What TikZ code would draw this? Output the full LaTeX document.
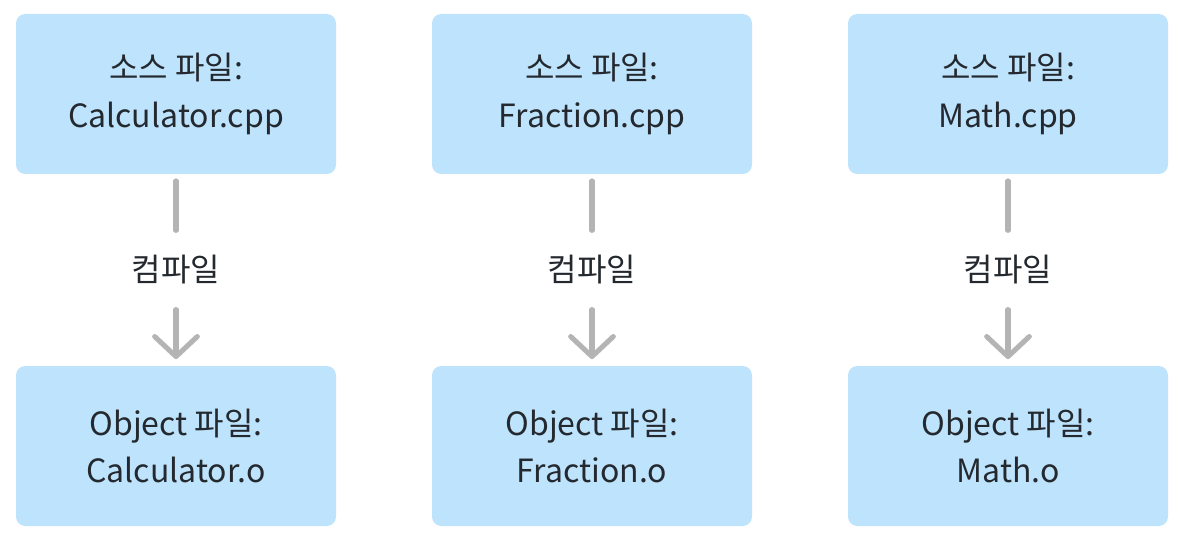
\documentclass[tikz,border=0pt]{standalone}
\usepackage{fontspec}
\setmainfont{Noto Sans CJK KR}
\usetikzlibrary{arrows.meta, positioning}
\definecolor{boxblue}{RGB}{190,227,252}
\definecolor{linegray}{RGB}{180,180,180}
\definecolor{textdark}{RGB}{36,41,47}

\begin{document}
\begin{tikzpicture}[x=0.75pt, y=-0.75pt,
  filebox/.style={rectangle, rounded corners=7pt, fill=boxblue, text=textdark,
    minimum width=240pt, minimum height=120pt, align=center,
    font=\fontsize{24}{35.5}\selectfont},
  steplabel/.style={text=textdark, minimum height=57pt, inner sep=0pt,
    font=\fontsize{24}{28}\selectfont},
  conn/.style={linegray, line width=3.8pt, line cap=round},
  tip/.style={-{Straight Barb[length=15pt, width=32pt, line cap=round, round]}}]
  \useasboundingbox (0,0) rectangle (1185,538);
  \foreach \name/\xc/\src/\obj in {calc/176/Calculator.cpp/Calculator.o,
      frac/592/Fraction.cpp/Fraction.o, math/1008/Math.cpp/Math.o} {
    \node[filebox] (\name-src) at (\xc,94) {소스 파일:\\\src};
    \node[filebox] (\name-obj) at (\xc,446) {Object 파일:\\\obj};
    \node[steplabel] (\name-lbl) at (\xc,270) {컴파일};
    \draw[conn, shorten <=5pt, shorten >=1pt] (\name-src) -- (\name-lbl);
    \draw[conn, tip, shorten <=1pt, shorten >=5pt] (\name-lbl) -- (\name-obj);
  }
\end{tikzpicture}
\end{document}
